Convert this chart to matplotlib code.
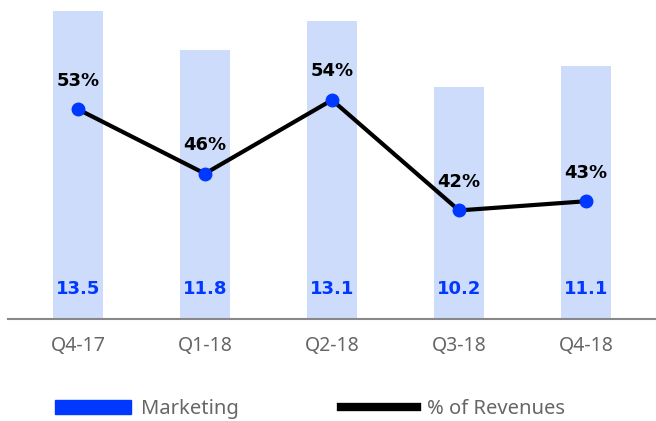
import matplotlib
matplotlib.use("Agg")
import matplotlib.pyplot as plt
from matplotlib.patches import Rectangle
from matplotlib.lines import Line2D

categories = ["Q4-17", "Q1-18", "Q2-18", "Q3-18", "Q4-18"]
marketing = [13.5, 11.8, 13.1, 10.2, 11.1]
pct_revenues = [53, 46, 54, 42, 43]

BAR_C = "#cddcfb"
BLUE = "#0038ff"
GRAY = "#666666"

fig = plt.figure(figsize=(6.56, 4.21), dpi=100)
ax = fig.add_axes([8/656, (421-319)/421, 648/656, 319/421])
x = list(range(len(categories)))
ax.bar(x, marketing, width=0.39, color=BAR_C, zorder=1)
for xi, v in zip(x, marketing):
    ax.text(xi, 1.3, f"{v:.1f}", ha="center", va="center", color=BLUE,
            fontsize=13, fontweight="bold", family="DejaVu Sans")
ax.set_xlim(-0.55, 4.55)
ax.set_ylim(0, 14.0)
for s in ["top", "left", "right"]:
    ax.spines[s].set_visible(False)
ax.spines["bottom"].set_color("#888888")
ax.spines["bottom"].set_linewidth(1.5)
ax.set_yticks([])
ax.set_xticks(x)
ax.set_xticklabels(categories, fontsize=14, color=GRAY, family="Noto Sans")
ax.tick_params(axis="x", length=0, pad=12)

ax2 = ax.twinx()
ax2.plot(x, pct_revenues, color="black", lw=3, zorder=3)
ax2.plot(x, pct_revenues, "o", color=BLUE, markersize=9, zorder=4)
for xi, v in zip(x, pct_revenues):
    ax2.text(xi, v + 3.1, f"{v}%", ha="center", va="center", color="black",
             fontsize=13, fontweight="bold", family="DejaVu Sans")
ax2.set_ylim(30.2, 64.87)
ax2.set_yticks([])
for s in ["top", "left", "right", "bottom"]:
    ax2.spines[s].set_visible(False)

handles = [Rectangle((0, 0), 1, 1, color=BLUE),
           Line2D([0], [0], color="black", lw=6)]
leg = fig.legend(handles, ["Marketing", "% of Revenues"], ncol=2,
                 loc="center left", bbox_to_anchor=(55/656, 1 - 409/421),
                 frameon=False, handlelength=3.75, handleheight=0.75,
                 handletextpad=0.5, columnspacing=5.1,
                 borderpad=0, borderaxespad=0,
                 prop={"family": "Noto Sans", "size": 14.5})
for t in leg.get_texts():
    t.set_color(GRAY)

fig.savefig("out.png", dpi=100)
